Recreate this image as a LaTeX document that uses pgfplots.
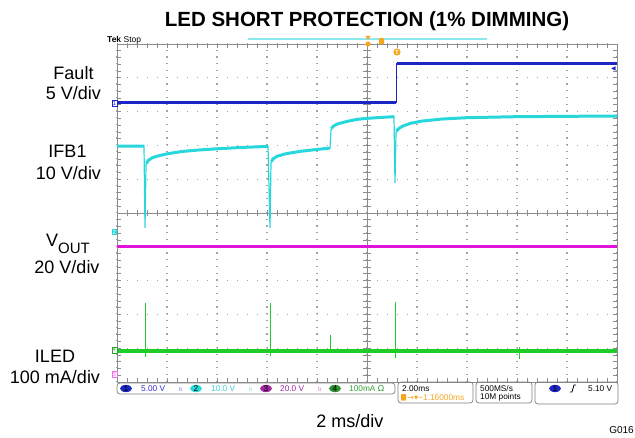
\documentclass[border=0pt]{standalone}
\usepackage{pgfplots}
\pgfplotsset{compat=1.18}
\usepackage{fontspec}
\setmainfont{Liberation Sans}
\newfontfamily\symfont{DejaVu Sans}

\definecolor{tekblue}{RGB}{28,38,196}
\definecolor{tekcyan}{RGB}{40,215,220}
\definecolor{tekmag}{RGB}{225,20,215}
\definecolor{tekgreen}{RGB}{30,205,40}
\definecolor{tekorange}{RGB}{245,165,30}
\definecolor{gridgray}{RGB}{140,140,140}
\definecolor{rdblue}{RGB}{50,50,200}
\definecolor{rdcyan}{RGB}{60,205,215}
\definecolor{rdpurple}{RGB}{160,40,160}
\definecolor{rdgreen}{RGB}{50,160,50}

\begin{document}
\begin{tikzpicture}
\useasboundingbox (0pt,0pt) rectangle (635pt,437pt);

\begin{axis}[
    at={(117pt,55pt)}, anchor=south west,
    scale only axis, width=500pt, height=338pt,
    xmin=0, xmax=10, ymin=-5, ymax=5,
    xtick={0,...,10}, ytick={-5,...,5},
    xticklabels={}, yticklabels={},
    minor x tick num=4, minor y tick num=4,
    tick pos=both, tick align=inside,
    major tick length=4pt, minor tick length=4pt,
    tick style={gridgray, line width=0.7pt},
    axis line style={gridgray, line width=1pt},
    grid=major,
    major x grid style={gridgray!80, line width=1.2pt, dash pattern=on 1.2pt off 5.56pt},
    major y grid style={gridgray!80, line width=1.2pt, dash pattern=on 1.2pt off 8.8pt},
    extra x ticks={5}, extra y ticks={0},
    extra x tick labels={}, extra y tick labels={},
    extra x tick style={major x grid style={gridgray, solid, line width=0.9pt}},
    extra y tick style={major y grid style={gridgray, solid, line width=0.9pt}},
    unbounded coords=jump,
    clip=false,
]
% centre graticule ticks
\pgfplotsinvokeforeach{1,...,49}{
  \draw[gridgray, line width=0.7pt] (axis cs:#1/5,-0.1) -- (axis cs:#1/5,0.1);
  \draw[gridgray, line width=0.7pt] (axis cs:4.92,#1/5-5) -- (axis cs:5.08,#1/5-5);
}

% Fault (ch1)
\addplot[tekblue, line width=1pt] coordinates {(0,3.26) (5.58,3.26) (5.58,4.43) (10,4.43)};
\addplot[tekblue, line width=3pt] coordinates {(0,3.26) (5.57,3.26) (5.57,nan) (5.59,4.43) (10,4.43)};

% IFB1 (ch2)
\addplot[tekcyan, line width=1.2pt] coordinates {
  (0,1.98) (0.54,1.98) (0.56,-0.44) (0.58,1.42) (0.62,1.55) (0.7,1.63) (0.8,1.68)
  (1.0,1.75) (1.3,1.82) (1.6,1.86) (2.0,1.9) (2.5,1.94) (3.02,1.97)
  (3.06,-0.44) (3.08,1.48) (3.12,1.6) (3.2,1.68) (3.4,1.76) (3.7,1.83) (4.0,1.88) (4.26,1.92)
  (4.28,2.46) (4.32,2.56) (4.4,2.63) (4.6,2.71) (4.8,2.77) (5.0,2.8) (5.3,2.83) (5.54,2.85)
  (5.56,0.89) (5.58,2.37) (5.62,2.48) (5.7,2.56) (5.86,2.65) (6.1,2.72) (6.5,2.78)
  (7.0,2.82) (8.0,2.85) (9.0,2.86) (10,2.87)
};
\addplot[tekcyan, line width=3pt] coordinates {
  (0,1.98) (0.54,1.98) (0.54,nan)
  (0.59,1.46) (0.62,1.55) (0.7,1.63) (0.8,1.68) (1.0,1.75) (1.3,1.82) (1.6,1.86)
  (2.0,1.9) (2.5,1.94) (3.02,1.97) (3.02,nan)
  (3.09,1.52) (3.12,1.6) (3.2,1.68) (3.4,1.76) (3.7,1.83) (4.0,1.88) (4.26,1.92) (4.26,nan)
  (4.29,2.5) (4.32,2.56) (4.4,2.63) (4.6,2.71) (4.8,2.77) (5.0,2.8) (5.3,2.83) (5.54,2.85) (5.54,nan)
  (5.59,2.42) (5.62,2.48) (5.7,2.56) (5.86,2.65) (6.1,2.72) (6.5,2.78) (7.0,2.82)
  (8.0,2.85) (9.0,2.86) (10,2.87)
};

% VOUT (ch3)
\addplot[tekmag, line width=3pt] coordinates {(0,-0.98) (10,-0.98)};

% ILED (ch4)
\addplot[tekgreen, line width=4pt] coordinates {(0,-4.08) (10,-4.08)};
\addplot[tekgreen, line width=1pt] coordinates {
  (0.56,-4.26) (0.56,-2.66) (0.56,nan)
  (3.06,-4.24) (3.06,-2.66) (3.06,nan)
  (4.26,-4.08) (4.26,-3.61) (4.26,nan)
  (5.56,-4.28) (5.56,-2.64) (5.56,nan)
  (8.05,-4.32) (8.05,-3.97)
};

% channel ground markers and trigger level
\node[draw=tekblue, fill=white, text=tekblue, font=\fontsize{6}{6}\selectfont, inner sep=0.8pt, anchor=east] at (axis cs:0,3.25) {1};
\node[fill=tekcyan, text=white, font=\fontsize{6}{6}\selectfont, inner sep=0.9pt, anchor=east] at (axis cs:0,-0.56) {2};
\node[draw=rdgreen, fill=white, text=rdgreen, font=\fontsize{6}{6}\selectfont, inner sep=0.8pt, anchor=east] at (axis cs:0,-4.05) {4};
\node[draw=tekmag!60, fill=white, text=tekmag!60, font=\fontsize{6}{6}\selectfont, inner sep=0.8pt, anchor=east] at (axis cs:0,-4.78) {3};
\node[text=tekblue, font=\symfont\fontsize{6}{6}\selectfont, inner sep=0pt, anchor=east] at (axis cs:9.98,4.27) {◀};
\end{axis}

\begin{scope}[x=1pt, y=1pt]
% title and channel labels
\node[anchor=base, font=\bfseries\fontsize{20.5}{24}\selectfont] at (367,410) {LED SHORT PROTECTION (1\% DIMMING)};
\begin{scope}[every node/.style={anchor=base, font=\fontsize{18}{20}\selectfont, inner sep=0pt}]
\node at (73.5,357) {Fault};
\node at (73.5,337) {5 V/div};
\node at (67.5,279) {IFB1};
\node at (68.5,257) {10 V/div};
\node at (68,190) {V\raisebox{-6.5pt}{\fontsize{15}{15}\selectfont OUT}};
\node at (67,163) {20 V/div};
\node at (55,75) {ILED};
\node at (55,54) {100 mA/div};
\node at (350,10) {2 ms/div};
\end{scope}
\node[anchor=base east, font=\fontsize{10}{10}\selectfont, inner sep=0pt] at (634,4) {G016};

% scope header
\node[anchor=base west, font=\fontsize{8.5}{9}\selectfont, inner sep=0pt] at (107,394) {\textbf{Tek} Stop};
\draw[tekcyan!55, line width=1.3pt] (248,398) -- (487,398);
\fill[tekorange] (365.5,401) -- (370.5,401) -- (368,397) -- cycle;
\fill[tekorange] (368,393) circle (2.6pt);
\fill[tekorange, rounded corners=0.8pt] (379,392.5) rectangle (384,399);
\fill[tekorange] (397,385) circle (3.6pt);
\node[text=white, font=\bfseries\fontsize{6}{6}\selectfont, inner sep=0pt] at (397,385) {T};

% readout bar
\begin{scope}[every node/.style={anchor=west, font=\fontsize{8.3}{9}\selectfont, inner sep=0pt}]
\draw[gray, rounded corners=3pt, line width=0.7pt] (117,43) rectangle (395,54);
\fill[tekblue] (126,48.5) ellipse (6pt and 3.6pt);
\node[anchor=center, text=black] at (126,48.5) {1};
\node[text=rdblue] at (141,48.5) {5.00 V};
\node[text=rdblue!60, font=\fontsize{6}{6}\selectfont] at (179,48) {b};
\fill[tekcyan] (196,48.5) ellipse (6pt and 3.6pt);
\node[anchor=center, text=black] at (196,48.5) {2};
\node[text=rdcyan] at (211,48.5) {10.0 V};
\node[text=rdcyan!60, font=\fontsize{6}{6}\selectfont] at (249,48) {b};
\fill[rdpurple] (266,48.5) ellipse (6pt and 3.6pt);
\node[anchor=center, text=black] at (266,48.5) {3};
\node[text=rdpurple] at (280,48.5) {20.0 V};
\node[text=rdpurple!60, font=\fontsize{6}{6}\selectfont] at (318,48) {b};
\fill[rdgreen!90!black] (335,48.5) ellipse (6pt and 3.6pt);
\node[anchor=center, text=black] at (335,48.5) {4};
\node[text=rdgreen] at (349,48.5) {100mA {\symfont Ω}};

\draw[gray, rounded corners=3pt, line width=0.7pt] (398,34) rectangle (473,55);
\node at (402,48.5) {2.00ms};
\fill[tekorange, rounded corners=0.6pt] (401,36.5) rectangle (406,43);
\node[text=tekorange] at (407,39.5) {{\symfont →▾}−1.16000ms};

\draw[gray, rounded corners=3pt, line width=0.7pt] (476,34) rectangle (532,55);
\node at (480,48.5) {500MS/s};
\node at (480,39.5) {10M points};

\draw[gray, rounded corners=3pt, line width=0.7pt] (535,33) rectangle (618,55);
\fill[tekblue] (555,48.5) ellipse (6pt and 3.6pt);
\node[anchor=center, text=black] at (555,48.5) {1};
\draw[black, line width=0.8pt] (570,45) -- (572,45) -- (574,52) -- (576,52);
\node at (588,48.5) {5.10 V};
\end{scope}
\end{scope}
\end{tikzpicture}
\end{document}
